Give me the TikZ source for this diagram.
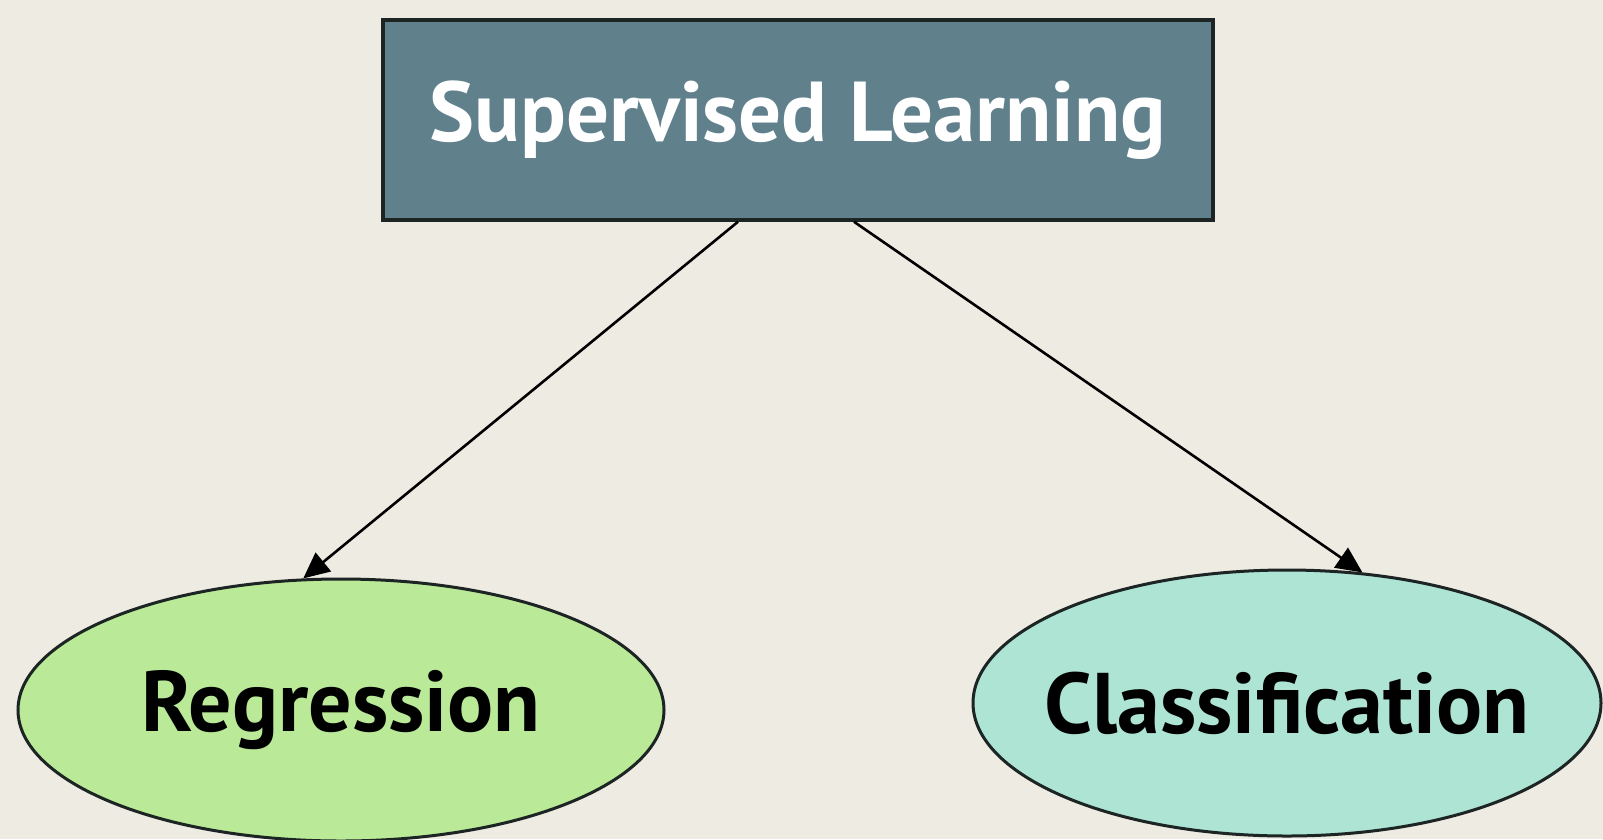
\documentclass[tikz,border=0pt]{standalone}
\usepackage{fontspec}
\setmainfont{PT Sans}
\usetikzlibrary{shapes.geometric,arrows.meta,calc}
\definecolor{bg}{RGB}{238,235,226}
\definecolor{boxfill}{RGB}{96,128,140}
\definecolor{regfill}{RGB}{186,234,152}
\definecolor{clsfill}{RGB}{174,228,212}
\definecolor{edge}{RGB}{28,36,36}
\newcommand{\zw}[1]{\makebox[0pt][c]{#1}}
\tikzset{
  topbox/.style={draw=edge, line width=3.5pt, fill=boxfill, rectangle, minimum width=830pt, minimum height=200pt, inner sep=0pt, text=white, font=\bfseries\fontsize{85}{94}\selectfont},
  leaf/.style={draw=edge, line width=3pt, ellipse, inner sep=0pt, text=black, font=\bfseries\fontsize{86}{96}\selectfont},
  conn/.style={draw=black, line width=2.6pt, -{Triangle[length=26pt,width=24pt]}}
}
\begin{document}
\begin{tikzpicture}[x=1pt,y=-1pt]
\fill[bg] (0,0) rectangle (1603,839);
\useasboundingbox (0,0) rectangle (1603,839);
\node[topbox] (sl) at (798,120) {Supervised Learning};
\node[leaf, fill=regfill, minimum width=646pt, minimum height=262pt] (reg) at (341,710) {\zw{Regression}};
\node[leaf, fill=clsfill, minimum width=628pt, minimum height=266pt] (cls) at (1287,703) {\zw{Classification}};
\coordinate (s1) at ($(sl.south)+(-60,0)$);
\coordinate (s2) at ($(sl.south)+(56,0)$);
\draw[conn] (s1) -- (reg.106);
\draw[conn] (s2) -- (cls.60);
\end{tikzpicture}
\end{document}
